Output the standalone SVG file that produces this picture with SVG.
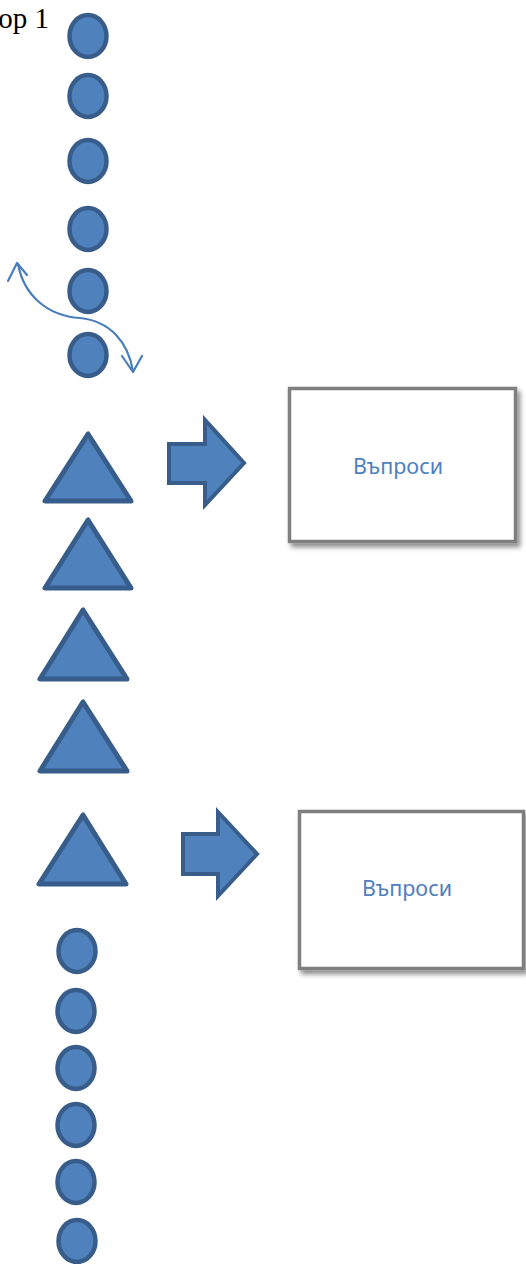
<svg xmlns="http://www.w3.org/2000/svg" width="526" height="1264" viewBox="0 0 526 1264">
<style>
.c{fill:#4f81bd;stroke:#385d8a;stroke-width:4.5}
.t{fill:#4f81bd;stroke:#385d8a;stroke-width:5;stroke-linejoin:round}
.ba{fill:#4f81bd;stroke:#385d8a;stroke-width:4;stroke-linejoin:miter}
.box{fill:#ffffff;stroke:#7f7f7f;stroke-width:3.5}
.lbl{font-family:"Noto Sans","Open Sans",sans-serif;font-size:21.5px;fill:#4f81bd;text-anchor:middle}
.cv{fill:none;stroke:#4a7ebb;stroke-width:2.2;stroke-linecap:round;stroke-linejoin:round}
</style>
<defs>
<filter id="sh" x="-10%" y="-10%" width="130%" height="130%">
<feDropShadow dx="3" dy="4" stdDeviation="2.5" flood-color="#000" flood-opacity="0.45"/>
</filter>
</defs>
<text x="49" y="28" font-family="'Liberation Serif',serif" font-size="29" text-anchor="end" fill="#000">op 1</text>
<g id="circle1"><ellipse class="c" cx="88" cy="36" rx="18.5" ry="21"/></g>
<g id="circle2"><ellipse class="c" cx="88" cy="96" rx="18.5" ry="21"/></g>
<g id="circle3"><ellipse class="c" cx="88" cy="161" rx="18.5" ry="21"/></g>
<g id="circle4"><ellipse class="c" cx="88" cy="229" rx="18.5" ry="21"/></g>
<g id="circle5"><ellipse class="c" cx="88" cy="291" rx="18.5" ry="21"/></g>
<g id="circle6"><ellipse class="c" cx="88" cy="355" rx="18.5" ry="21"/></g>
<g id="connectors">
<path class="cv" d="M18,264 C24,296 48,316 80,318 C110,321 128,342 133,371"/>
<path class="cv" d="M8,281 L17,263 L27,275"/>
<path class="cv" d="M122,356 L133,372 L142,356"/>
</g>
<g id="tri1"><polygon class="t" points="88,434 45,501 131,501"/></g>
<g id="tri2"><polygon class="t" points="88,520 45,588 131,588"/></g>
<g id="tri3"><polygon class="t" points="83,610 40,679 127,679"/></g>
<g id="tri4"><polygon class="t" points="83,702 40,771 127,771"/></g>
<g id="tri5"><polygon class="t" points="83,815 39,884 126,884"/></g>
<g id="arrow1"><polygon class="ba" points="169,444 205,444 205,420 244,463 205,505 205,483 169,483"/></g>
<g id="box1">
<rect class="box" x="289.5" y="388.5" width="226" height="153" filter="url(#sh)"/>
<text class="lbl" x="398" y="474">Въпроси</text>
</g>
<g id="arrow2"><polygon class="ba" points="183,834 218,834 218,812 257,854 218,896 218,874 183,874"/></g>
<g id="box2">
<rect class="box" x="299.5" y="811.5" width="224" height="157" filter="url(#sh)"/>
<text class="lbl" x="407" y="896">Въпроси</text>
</g>
<g id="circle7"><ellipse class="c" cx="77" cy="951" rx="18.5" ry="21"/></g>
<g id="circle8"><ellipse class="c" cx="76" cy="1011" rx="18.5" ry="21"/></g>
<g id="circle9"><ellipse class="c" cx="76" cy="1068" rx="18.5" ry="21"/></g>
<g id="circle10"><ellipse class="c" cx="76" cy="1125" rx="18.5" ry="21"/></g>
<g id="circle11"><ellipse class="c" cx="76" cy="1182" rx="18.5" ry="21"/></g>
<g id="circle12"><ellipse class="c" cx="77" cy="1241" rx="18.5" ry="21"/></g>
</svg>
